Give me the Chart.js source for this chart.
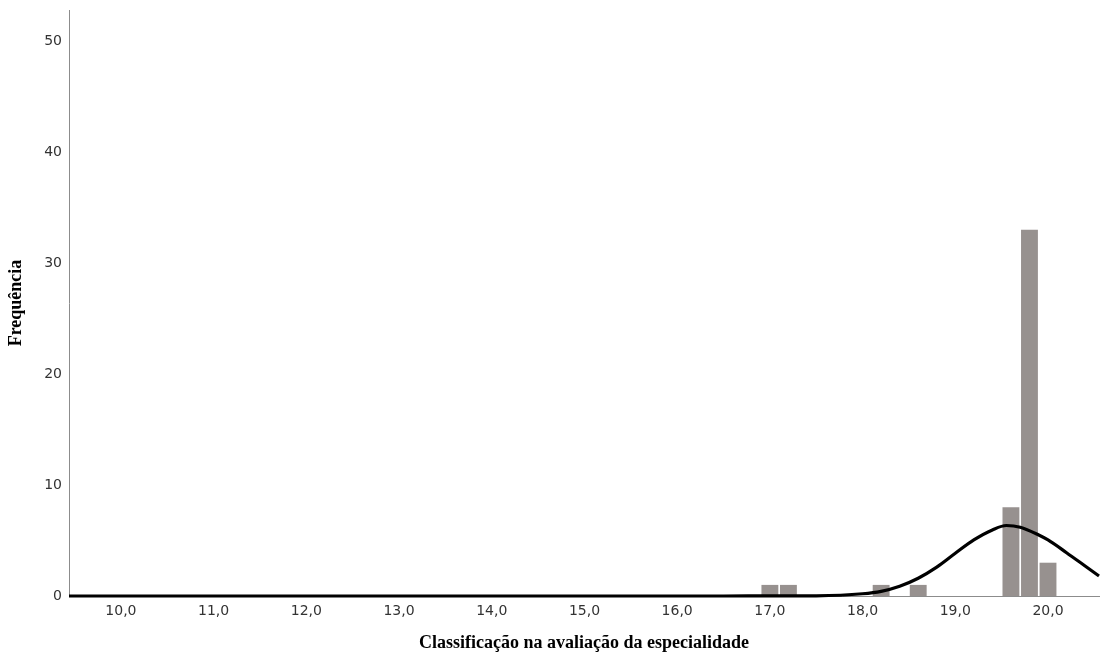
<!DOCTYPE html>
<html>
<head>
<meta charset="utf-8">
<script src="https://cdn.jsdelivr.net/npm/chart.js@4"></script>
<style>
  body { margin:0; background:#fff; }
  canvas { display:block; }
</style>
</head>
<body>
<canvas id="hist" width="1108" height="657"></canvas>
<script>
// histogram bins (centre of each 0.2 wide bin) and counts
const binCenters = [17.0, 17.2, 18.2, 18.6, 19.6, 19.8, 20.0];
const counts = [1, 1, 1, 1, 8, 33, 3];

// normal curve
const curveX = [9.44, 12.0, 15.0, 16.5, 17.0, 17.5, 18.0, 18.2, 18.4, 18.6, 18.8, 19.0, 19.2, 19.4, 19.55, 19.7, 19.9, 20.0, 20.2, 20.4, 20.55];
const curveY = [0, 0, 0, 0, 0.01, 0.02, 0.2, 0.42, 0.88, 1.6, 2.6, 3.85, 5.05, 5.95, 6.35, 6.2, 5.5, 5.05, 3.9, 2.7, 1.8];

const xTicks = [10, 11, 12, 13, 14, 15, 16, 17, 18, 19, 20];
const yTicks = [0, 10, 20, 30, 40, 50];

const axisColor = '#8c8c8c';
const tickFont = { family: 'DejaVu Sans', size: 14 };
const titleFont = { family: 'Liberation Serif', size: 18, weight: 'bold' };

new Chart(document.getElementById('hist'), {
  type: 'bar',
  data: {
    datasets: [
      {
        type: 'line',
        data: curveX.map((x, i) => ({ x, y: curveY[i] })),
        borderColor: '#000',
        borderWidth: 3.2,
        pointRadius: 0,
        cubicInterpolationMode: 'monotone',
        fill: false,
        clip: false,
        order: 0
      },
      {
        type: 'bar',
        data: binCenters.map((x, i) => ({ x, y: counts[i] })),
        backgroundColor: '#97918f',
        borderWidth: 0,
        barPercentage: 0.91,
        categoryPercentage: 1,
        order: 1
      }
    ]
  },
  options: {
    responsive: false,
    animation: false,
    layout: { padding: { top: 10, right: 9, left: 0, bottom: 0 } },
    plugins: { legend: { display: false }, tooltip: { enabled: false } },
    scales: {
      x: {
        type: 'linear',
        offset: false,
        min: 9.44,
        max: 20.55,
        afterBuildTicks: s => { s.ticks = xTicks.map(v => ({ value: v })); },
        afterFit: s => { s.height = 61; s.paddingLeft = 0; s.paddingRight = 0; },
        grid: { display: false, drawTicks: false, offset: false },
        border: { display: true, color: axisColor, width: 1 },
        ticks: {
          padding: 7,
          color: '#333',
          font: tickFont,
          maxRotation: 0,
          callback: v => v.toFixed(1).replace('.', ',')
        },
        title: {
          display: true,
          text: 'Classificação na avaliação da especialidade',
          color: '#000',
          font: titleFont,
          padding: { top: 0, bottom: 3 }
        }
      },
      y: {
        min: 0,
        max: 52.8,
        afterBuildTicks: s => { s.ticks = yTicks.map(v => ({ value: v })); },
        afterFit: s => { s.width = 69; s.paddingTop = 0; s.paddingBottom = 0; },
        grid: { display: false, drawTicks: false },
        border: { display: true, color: axisColor, width: 1 },
        ticks: { padding: 7, color: '#333', font: tickFont },
        title: {
          display: true,
          text: 'Frequência',
          color: '#000',
          font: titleFont,
          padding: { top: 6, bottom: 0 }
        }
      }
    }
  }
});
</script>
</body>
</html>
